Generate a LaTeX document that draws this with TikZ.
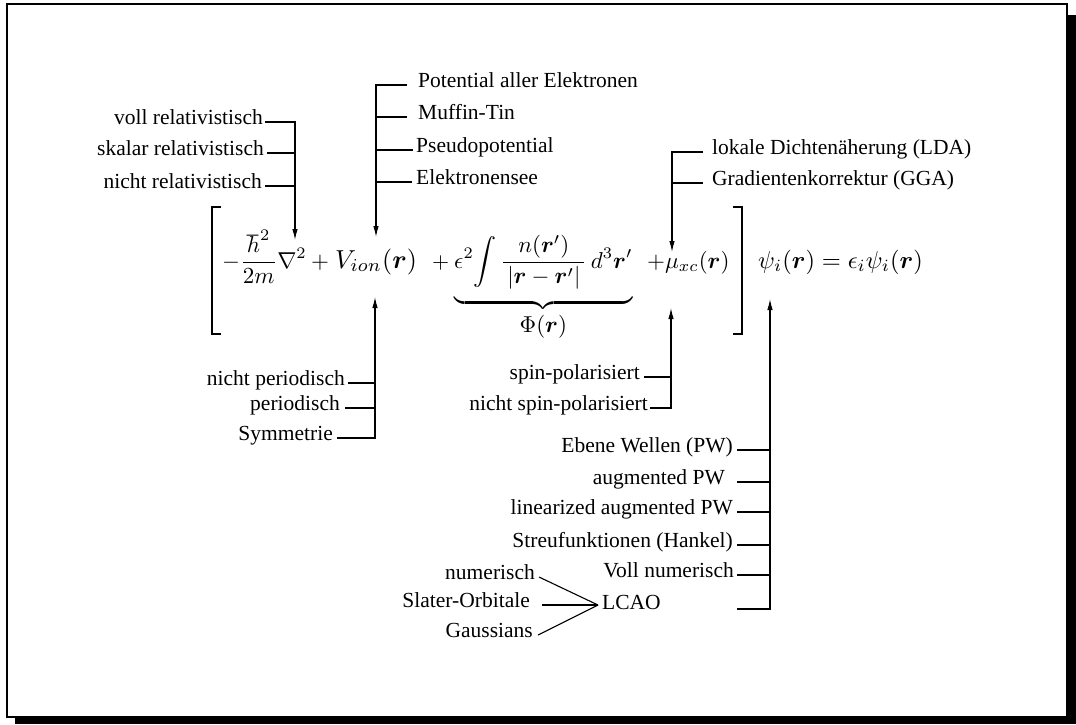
\documentclass[tikz,border=0pt]{standalone}
\usepackage{amsmath}
\usepackage{bm}
\usepackage{graphicx}
\usepackage{fontspec}
\setmainfont{Liberation Serif}
\usetikzlibrary{arrows.meta}
\newcommand{\eqs}[2][2.3]{\scalebox{#1}{$\displaystyle #2$}}
\begin{document}
\begin{tikzpicture}[x=1pt,y=-1pt,
  lbl/.style={font=\fontsize{21.5}{26}\selectfont, inner sep=0pt},
  ln/.style={line width=1.1pt},
  arr/.style={line width=1.1pt, -{Latex[length=11pt,width=5.5pt]}},
  eq/.style={inner sep=0pt, anchor=base west},
  brk/.style={line width=1.6pt}]
\useasboundingbox (0,0) rectangle (1076,724);
% frame with shadow
\draw[line width=1.3pt] (7,4) rectangle (1067,717);
\fill (1067,15) rectangle (1076,724);
\fill (15,717) rectangle (1076,724);

% ---------- equation ----------
\node[eq] (kinT) at (222,268) {\eqs{-\frac{\hbar^2}{2m}\nabla^2}};
\node[eq] (p1) at (311,268) {\eqs{+}};
\node[eq] (ion) at (335,268) {\eqs[2.6]{V_{ion}(\bm{r})}};
\node[eq] (p2) at (432,268) {\eqs[2.2]{+}};
\node[eq] (har) at (454,268) {\eqs{\underbrace{\epsilon^2\!\int \frac{n(\bm{r}')}{\,|\bm{r}-\bm{r}'|\,}\,d^3\bm{r}'\rule[-11.5pt]{0pt}{1pt}}_{\textstyle\Phi(\bm{r})}}};
\node[eq] (xc) at (647,268) {\eqs{+\mu_{xc}(\bm{r})}};
\node[eq] (psi) at (758,268) {\eqs[2.45]{\psi_i(\bm{r}) = \epsilon_i\psi_i(\bm{r})}};
\draw[brk] (221,207) -- (212,207) -- (212,334) -- (221,334);
\draw[brk] (733,207) -- (742,207) -- (742,334) -- (733,334);

% ---------- kinetic term (top left) ----------
\coordinate (kin) at (295,240);
\node[lbl, anchor=mid east] (t1) at (263,122) {voll relativistisch};
\node[lbl, anchor=mid east] (t2) at (264,153) {skalar relativistisch};
\node[lbl, anchor=mid east] (t3) at (262,186) {nicht relativistisch};
\draw[arr] ([xshift=2pt]t1.mid east) -- (t1.mid east -| kin) -- (kin);
\draw[ln] ([xshift=3pt]t2.mid east) -- (t2.mid east -| kin);
\draw[ln] ([xshift=3pt]t3.mid east) -- (t3.mid east -| kin);

% ---------- ionic potential (top) ----------
\coordinate (vtop) at (376,237);
\node[lbl, anchor=mid west] (m1) at (418,85) {Potential aller Elektronen};
\node[lbl, anchor=mid west] (m2) at (418,117) {Muffin-Tin};
\node[lbl, anchor=mid west] (m3) at (416,150) {Pseudopotential};
\node[lbl, anchor=mid west] (m4) at (416,182) {Elektronensee};
\draw[arr] ([xshift=-11pt]m1.mid west) -- (m1.mid west -| vtop) -- (vtop);
\draw[ln] ([xshift=-11pt]m2.mid west) -- (m2.mid west -| vtop);
\draw[ln] ([xshift=-3pt]m3.mid west) -- (m3.mid west -| vtop);
\draw[ln] ([xshift=-4pt]m4.mid west) -- (m4.mid west -| vtop);

% ---------- xc potential (top right) ----------
\coordinate (xctop) at (672,252);
\node[lbl, anchor=mid west] (r1) at (712,152) {lokale Dichten\"aherung (LDA)};
\node[lbl, anchor=mid west] (r2) at (712,183) {Gradientenkorrektur (GGA)};
\draw[arr] ([xshift=-9pt]r1.mid west) -- (r1.mid west -| xctop) -- (xctop);
\draw[ln] ([xshift=-9pt]r2.mid west) -- (r2.mid west -| xctop);

% ---------- ionic potential (bottom) ----------
\coordinate (vbot) at (375,297);
\node[lbl, anchor=mid east] (b1) at (345,383) {nicht periodisch};
\node[lbl, anchor=mid east] (b2) at (340,408) {periodisch};
\node[lbl, anchor=mid east] (b3) at (333,438) {Symmetrie};
\draw[arr] ([xshift=4pt]b3.mid east) -- (b3.mid east -| vbot) -- (vbot);
\draw[ln] ([xshift=3pt]b1.mid east) -- (b1.mid east -| vbot);
\draw[ln] ([xshift=5pt]b2.mid east) -- (b2.mid east -| vbot);

% ---------- spin (bottom middle) ----------
\coordinate (xcbot) at (671,308);
\node[lbl, anchor=mid east] (s1) at (640,377) {spin-polarisiert};
\node[lbl, anchor=mid east] (s2) at (648,408) {nicht spin-polarisiert};
\draw[arr] ([xshift=2pt]s2.mid east) -- (s2.mid east -| xcbot) -- (xcbot);
\draw[ln] ([xshift=4pt]s1.mid east) -- (s1.mid east -| xcbot);

% ---------- basis sets (bottom right) ----------
\coordinate (psib) at (770,299);
\coordinate (ls) at (737,450);
\node[lbl, anchor=mid east] (w1) at (733,450) {Ebene Wellen (PW)};
\node[lbl, anchor=mid east] (w2) at (725,482) {augmented PW};
\node[lbl, anchor=mid east] (w3) at (733,512) {linearized augmented PW};
\node[lbl, anchor=mid east] (w4) at (733,545) {Streufunktionen (Hankel)};
\node[lbl, anchor=mid east] (w5) at (734,575) {Voll numerisch};
\node[lbl, anchor=mid west] (lc) at (602,607) {LCAO};
\coordinate (lcl) at (737,609);
\draw[arr] (lcl) -- (lcl -| psib) -- (psib);
\foreach \w in {w1,w2,w3,w4,w5}
  \draw[ln] (\w.mid east -| ls) -- (\w.mid east -| psib);

% ---------- LCAO ----------
\coordinate (conv) at (598,605);
\node[lbl, anchor=mid east] (n1) at (535,577) {numerisch};
\node[lbl, anchor=mid east] (n2) at (530,605) {Slater-Orbitale};
\node[lbl, anchor=mid east] (n3) at (533,635) {Gaussians};
\draw[ln] ([xshift=4pt]n1.mid east) -- (conv);
\draw[ln] ([xshift=12pt]n2.mid east) -- (conv);
\draw[ln] ([xshift=5pt]n3.mid east) -- (conv);
\end{tikzpicture}
\end{document}
